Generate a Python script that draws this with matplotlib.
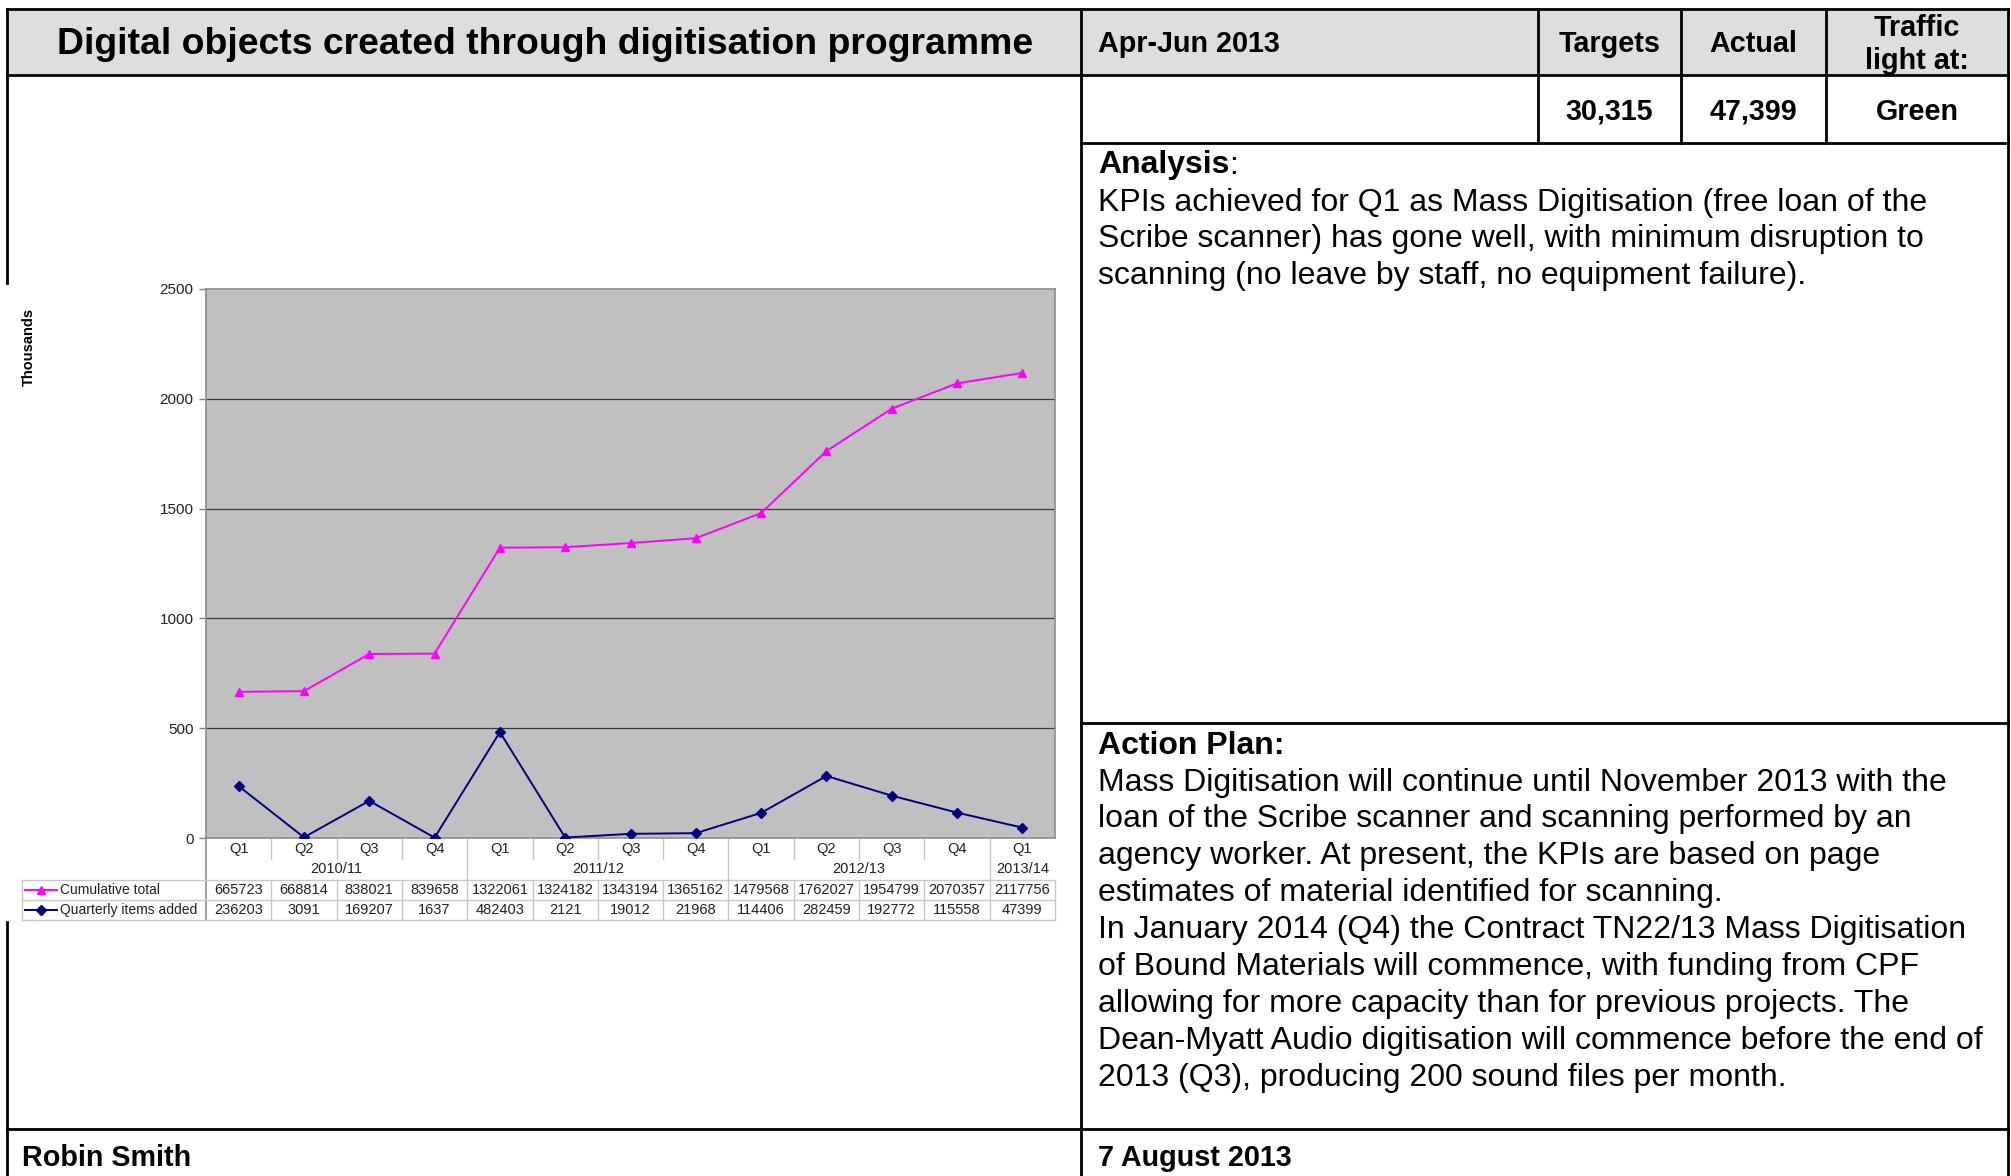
import matplotlib
matplotlib.use('Agg')
import matplotlib.pyplot as plt
from matplotlib.lines import Line2D
from matplotlib.patches import Rectangle
import matplotlib.font_manager as fm
import matplotlib.transforms as mtransforms

# ---------------- data ----------------
quarters = ['Q1', 'Q2', 'Q3', 'Q4', 'Q1', 'Q2', 'Q3', 'Q4', 'Q1', 'Q2', 'Q3', 'Q4', 'Q1']
years = ['2010/11', '2011/12', '2012/13', '2013/14']
year_first = [0, 4, 8, 12]
year_last = [3, 7, 11, 12]
cumulative_total = [665723, 668814, 838021, 839658, 1322061, 1324182, 1343194,
                    1365162, 1479568, 1762027, 1954799, 2070357, 2117756]
quarterly_added = [236203, 3091, 169207, 1637, 482403, 2121, 19012, 21968,
                   114406, 282459, 192772, 115558, 47399]
series_names = ['Cumulative total', 'Quarterly items added']
y_ticks = [0, 500, 1000, 1500, 2000, 2500]

title = 'Digital objects created through digitisation programme'
period = 'Apr-Jun 2013'
col_heads = ['Targets', 'Actual', 'Traffic\nlight at:']
col_values = ['30,315', '47,399', 'Green']
analysis_lines = [
    'KPIs achieved for Q1 as Mass Digitisation (free loan of the',
    'Scribe scanner) has gone well, with minimum disruption to',
    'scanning (no leave by staff, no equipment failure).',
]
action_lines = [
    'Mass Digitisation will continue until November 2013 with the',
    'loan of the Scribe scanner and scanning performed by an',
    'agency worker. At present, the KPIs are based on page',
    'estimates of material identified for scanning.',
    'In January 2014 (Q4) the Contract TN22/13 Mass Digitisation',
    'of Bound Materials will commence, with funding from CPF',
    'allowing for more capacity than for previous projects. The',
    'Dean-Myatt Audio digitisation will commence before the end of',
    '2013 (Q3), producing 200 sound files per month.',
]
author = 'Robin Smith'
date = '7 August 2013'

# ---------------- figure ----------------
W, H = 2011, 1176
fig = plt.figure(figsize=(W / 100, H / 100), dpi=100)
fig.patch.set_facecolor('white')
renderer = fig.canvas.get_renderer()

names = {f.name for f in fm.fontManager.ttflist}
NARROW = 'Liberation Sans Narrow' if 'Liberation Sans Narrow' in names else 'Liberation Sans'
ARIAL = 'Liberation Sans'


def fx(x):
    return x / W


def fy(y):
    return 1 - y / H


def hline(x0, x1, y, lw=2.0, color='black'):
    fig.add_artist(Line2D([fx(x0), fx(x1)], [fy(y), fy(y)], lw=lw, color=color,
                          transform=fig.transFigure, solid_capstyle='projecting'))


def vline(x, y0, y1, lw=2.0, color='black'):
    fig.add_artist(Line2D([fx(x), fx(x)], [fy(y0), fy(y1)], lw=lw, color=color,
                          transform=fig.transFigure, solid_capstyle='projecting'))


def fit_size(s, target_w, **kw):
    t = fig.text(0, 0, s, fontsize=20, **kw)
    w = t.get_window_extent(renderer).width
    t.remove()
    return 20 * target_w / w


def put(x, y, s, size, ha='left', va='center', **kw):
    return fig.text(fx(x), fy(y), s, fontsize=size, ha=ha, va=va, **kw)


# layout (pixels)
L, R, T = 7, 2008, 9
XM = 1081
XC = [1538, 1681, 1826]
Y_HEAD = 75
Y_ROW2 = 143
Y_ANA = 723
Y_FOOT = 1129
DY = 2.5

# header background
fig.add_artist(Rectangle((fx(L), fy(Y_HEAD)), fx(R) - fx(L), fy(T) - fy(Y_HEAD),
                         transform=fig.transFigure, facecolor='#dedede', edgecolor='none', zorder=0))

# borders
hline(L, R, T)
hline(L, R, Y_HEAD)
hline(XM, R, Y_ROW2)
hline(XM, R, Y_ANA)
hline(L, R, Y_FOOT)
vline(L, T, 283)
vline(L, 922, H + 5)
vline(R, T, H + 5)
vline(XM, T, H + 5)
for xc in XC:
    vline(xc, T, Y_ROW2)

# header text
tsize = fit_size(title, 973, family=NARROW, weight='bold')
put(545, 42 + DY, title, tsize, ha='center', family=NARROW, weight='bold')
hsize = fit_size('Apr-Jun 2013', 182, family=NARROW, weight='bold')
put(1098, 41 + DY, period, hsize, family=NARROW, weight='bold')
col_centers = [(XC[0] + XC[1]) / 2, (XC[1] + XC[2]) / 2, (XC[2] + R) / 2]
for cx, h, v in zip(col_centers, col_heads, col_values):
    ls = 1.2 if '\n' in h else 1.0
    put(cx, 41 + DY + (1 if '\n' in h else 0), h, hsize, ha='center', family=NARROW,
        weight='bold', linespacing=ls)
    put(cx, 109 + DY, v, hsize, ha='center', family=NARROW, weight='bold')

# body text
bsize = fit_size(action_lines[7], 883, family=NARROW)
t = put(1098, 163 + DY, 'Analysis', bsize, family=NARROW, weight='bold')
aw = t.get_window_extent(renderer).width
put(1098 + aw, 163 + DY, ':', bsize, family=NARROW)
for i, line in enumerate(analysis_lines):
    put(1098, 200 + DY + 36.7 * i, line, bsize, family=NARROW)
put(1098, 743 + DY, 'Action Plan:', bsize, family=NARROW, weight='bold')
for i, line in enumerate(action_lines):
    put(1098, 780 + DY + 36.9 * i, line, bsize, family=NARROW)

# footer
put(22, 1155 + DY, author, hsize, family=NARROW, weight='bold')
put(1098, 1155 + DY, date, hsize, family=NARROW, weight='bold')

# ---------------- chart ----------------
PX0, PX1, PY0, PY1 = 206, 1055, 289, 838
ax = fig.add_axes([fx(PX0), fy(PY1), fx(PX1) - fx(PX0), fy(PY0) - fy(PY1)])
ax.set_facecolor('#c0c0c0')
n = len(quarters)
xs = list(range(n))
ax.set_xlim(-0.5, n - 0.5)
ax.set_ylim(0, 2500)
ax.set_yticks(y_ticks)
ax.set_yticklabels([str(v) for v in y_ticks], fontsize=11, family=ARIAL, color='#222222')
ax.tick_params(axis='y', length=5, width=1, color='#808080', pad=4)
ax.set_xticks([])
for sp in ax.spines.values():
    sp.set_color('#8c8c8c')
    sp.set_linewidth(1.2)
for v in y_ticks[1:-1]:
    ax.axhline(v, color='#3a3a3a', lw=0.9, zorder=1)

cum_k = [v / 1000 for v in cumulative_total]
qtr_k = [v / 1000 for v in quarterly_added]
ax.plot(xs, cum_k, color='#ff00ff', lw=1.4, marker='^', ms=6, zorder=3)
ax.plot(xs, qtr_k, color='#000080', lw=1.4, marker='D', ms=5.5, zorder=3)

fig.text(fx(29), fy(347), 'Thousands', rotation=90, fontsize=10.5, weight='bold',
         family=ARIAL, ha='center', va='center')

# data table under the axis (x in data coords, y in figure pixels)
trans = mtransforms.blended_transform_factory(ax.transData, fig.transFigure)
GRID = '#c8c8c8'
TXT = '#222222'


def tline(x0, x1, y0, y1, color=GRID, lw=1.0):
    ax.add_line(Line2D([x0, x1], [fy(y0), fy(y1)], transform=trans, color=color,
                       lw=lw, clip_on=False))


Y_Q, Y_YR, Y_T0, Y_T1, Y_T2 = 849, 869, 880, 900, 920
for i, q in enumerate(quarters):
    ax.text(i, fy(Y_Q), q, transform=trans, ha='center', va='center', fontsize=10.5,
            family=ARIAL, color=TXT)
for yl, a, b in zip(years, year_first, year_last):
    ax.text((a + b) / 2, fy(Y_YR), yl, transform=trans, ha='center', va='center',
            fontsize=10.5, family=ARIAL, color=TXT)
for i in range(n - 1):
    xb = i + 0.5
    if i in year_last:
        tline(xb, xb, PY1, Y_T0)
    else:
        tline(xb, xb, PY1, Y_Q + 10)
tline(-0.5, -0.5, PY1, Y_T2, color='#8c8c8c', lw=1.2)
tline(n - 0.5, n - 0.5, Y_T0, Y_T2)
for i in range(n - 1):
    tline(i + 0.5, i + 0.5, Y_T0, Y_T2)
# horizontal table lines including legend column
for yy in (Y_T0, Y_T1, Y_T2):
    fig.add_artist(Line2D([fx(22), fx(PX1)], [fy(yy), fy(yy)], color=GRID, lw=1.0,
                          transform=fig.transFigure))
vline(22, Y_T0, Y_T2, lw=1.0, color=GRID)

for row, (vals, name, col, mk, ms) in enumerate(zip(
        [cumulative_total, quarterly_added], series_names,
        ['#ff00ff', '#000080'], ['^', 'D'], [6, 5.5])):
    yc = (Y_T0 + Y_T1) / 2 + row * (Y_T1 - Y_T0)
    for i, v in enumerate(vals):
        ax.text(i, fy(yc), str(v), transform=trans, ha='center', va='center',
                fontsize=10.5, family=ARIAL, color=TXT)
    fig.add_artist(Line2D([fx(25), fx(57)], [fy(yc), fy(yc)], color=col, lw=1.4,
                          transform=fig.transFigure))
    fig.add_artist(Line2D([fx(41)], [fy(yc)], color=col, marker=mk, ms=ms,
                          transform=fig.transFigure))
    put(60, yc, name, 10, family=ARIAL, color=TXT)

fig.savefig('out.png', dpi=100, facecolor='white')
